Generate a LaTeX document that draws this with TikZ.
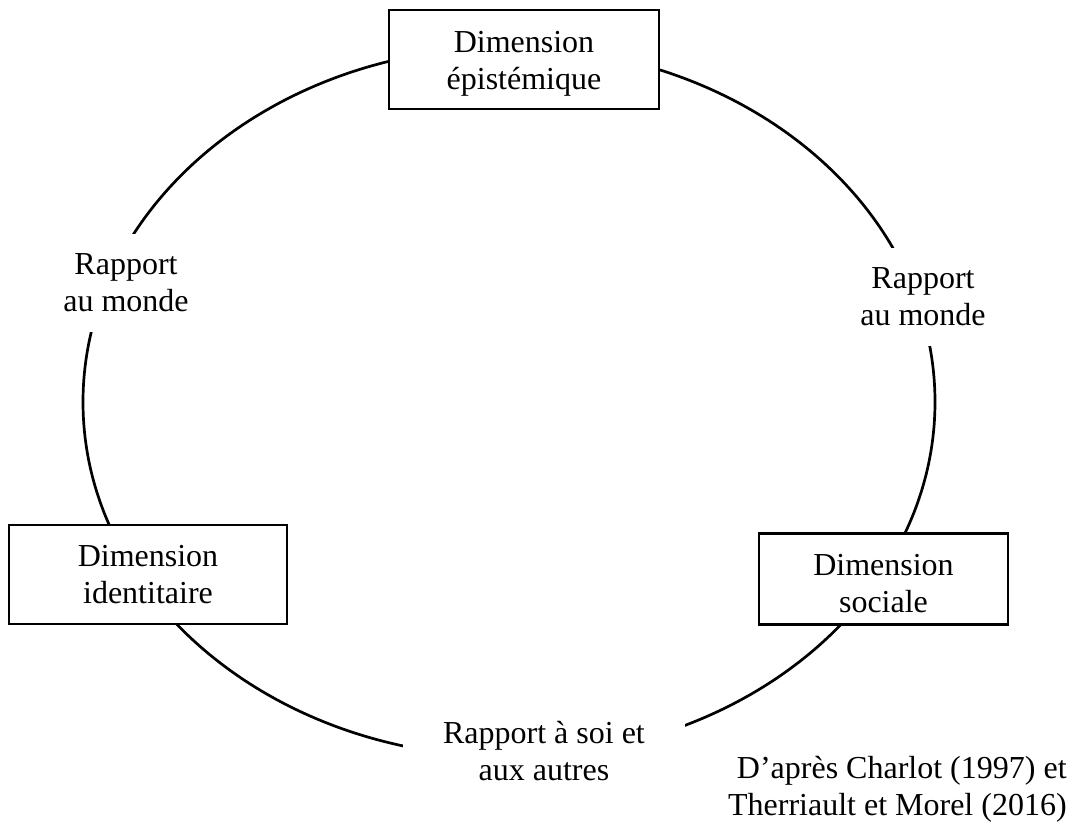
\documentclass[tikz,border=0pt]{standalone}
\usepackage{fontspec}
\setmainfont{Liberation Serif}

\begin{document}
\begin{tikzpicture}[x=1pt,y=-1pt,line width=2.7pt,
  font=\fontsize{32}{37}\selectfont,
  dimbox/.style={draw,fill=white,align=center,inner sep=0pt},
  rapport/.style={fill=white,align=center,inner xsep=3pt,inner ysep=20pt}]
  \useasboundingbox (0,0) rectangle (1080,830);
  \coordinate (ctr) at (509,402);
  \draw (ctr) ellipse [x radius=426pt,y radius=355pt];
  \node[dimbox,minimum width=270pt,minimum height=99pt] (epist) at (524,59.5) {\rule{0pt}{29pt}Dimension\\épistémique};
  \node[dimbox,minimum width=278pt,minimum height=99pt] (ident) at (148,574.5) {Dimension\\identitaire};
  \node[dimbox,minimum width=249pt,minimum height=91pt] (social) at (883.5,579) {\rule{0pt}{30pt}Dimension\\sociale};
  \node[rapport] (mondeg) at (126,283) {Rapport\\au monde};
  \node[rapport] (monded) at (923,297) {Rapport\\au monde};
  \node[rapport,inner xsep=40pt,inner ysep=4pt] (autres) at (544,751) {Rapport à soi et\\aux autres};
  \node[align=right,anchor=east,inner sep=0pt] (source) at (1068,789) {D’après Charlot (1997) et\\Therriault et Morel (2016)};
\end{tikzpicture}
\end{document}
